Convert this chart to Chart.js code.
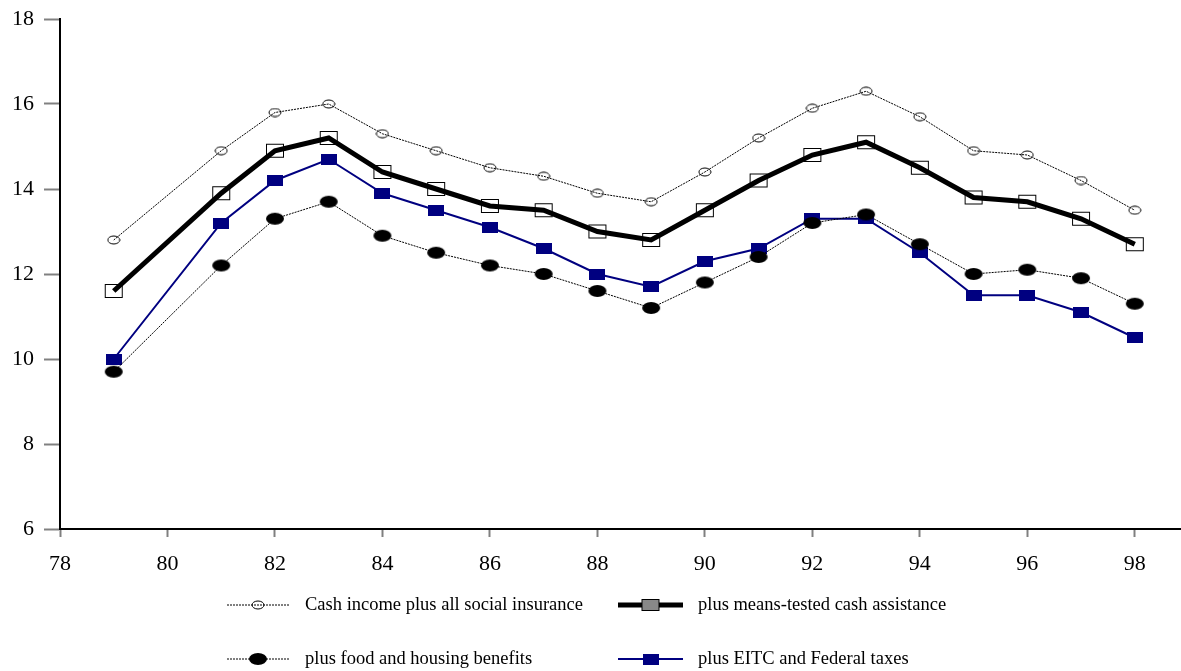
<!DOCTYPE html>
<html>
<head>
<meta charset="utf-8">
<script src="https://cdn.jsdelivr.net/npm/chart.js@4/dist/chart.umd.min.js"></script>
<style>
  html, body { margin: 0; padding: 0; background: #fff; }
  #wrap { width: 1181px; height: 671px; }
</style>
</head>
<body>
<div id="wrap"><canvas id="chart" width="1181" height="671"></canvas></div>
<script>
// years (no 1980 observation)
const years = [79, 81, 82, 83, 84, 85, 86, 87, 88, 89, 90, 91, 92, 93, 94, 95, 96, 97, 98];

const cashSocialIns = [12.8, 14.9, 15.8, 16.0, 15.3, 14.9, 14.5, 14.3, 13.9, 13.7, 14.4, 15.2, 15.9, 16.3, 15.7, 14.9, 14.8, 14.2, 13.5];
const meansTested   = [11.6, 13.9, 14.9, 15.2, 14.4, 14.0, 13.6, 13.5, 13.0, 12.8, 13.5, 14.2, 14.8, 15.1, 14.5, 13.8, 13.7, 13.3, 12.7];
const foodHousing   = [9.7, 12.2, 13.3, 13.7, 12.9, 12.5, 12.2, 12.0, 11.6, 11.2, 11.8, 12.4, 13.2, 13.4, 12.7, 12.0, 12.1, 11.9, 11.3];
const eitcTaxes     = [10.0, 13.2, 14.2, 14.7, 13.9, 13.5, 13.1, 12.6, 12.0, 11.7, 12.3, 12.6, 13.3, 13.3, 12.5, 11.5, 11.5, 11.1, 10.5];

const seriesLabels = [
    'Cash income plus all social insurance',
    'plus means-tested cash assistance',
    'plus food and housing benefits',
    'plus EITC and Federal taxes'
];

const xTicks = [78, 80, 82, 84, 86, 88, 90, 92, 94, 96, 98];
const yTicks = [6, 8, 10, 12, 14, 16, 18];

const FONT = '"Liberation Serif", "DejaVu Serif", serif';

// little canvases used as point markers
function marker(w, h, draw) {
    const c = document.createElement('canvas');
    c.width = w; c.height = h;
    draw(c.getContext('2d'), w, h);
    return c;
}
const openEllipse = marker(14, 10, (g, w, h) => {
    g.strokeStyle = '#000'; g.lineWidth = 1;
    g.beginPath(); g.ellipse(w / 2, h / 2, 6, 4, 0, 0, Math.PI * 2); g.stroke();
});
const openSquare = marker(20, 16, (g, w, h) => {
    g.strokeStyle = '#000'; g.lineWidth = 1;
    g.strokeRect(1.5, 1.5, 17, 13);
});
const filledEllipse = marker(20, 14, (g, w, h) => {
    g.fillStyle = '#000';
    g.beginPath(); g.ellipse(w / 2, h / 2, 9, 6, 0, 0, Math.PI * 2); g.fill();
});
const blueSquare = marker(16, 11, (g, w, h) => {
    g.fillStyle = '#000080';
    g.fillRect(0, 0, 16, 11);
});
// legend version of the open square has a grey fill
const legendSquare = marker(20, 14, (g, w, h) => {
    g.fillStyle = '#888'; g.fillRect(1.5, 1.5, 17, 11);
    g.strokeStyle = '#000'; g.lineWidth = 1;
    g.strokeRect(1.5, 1.5, 17, 11);
});

function toXY(vals) {
    return vals.map((v, i) => ({ x: years[i], y: v }));
}

// legend drawn below the plot: line sample with marker, then label
const legendPlugin = {
    id: 'sampleLegend',
    afterDraw(chart) {
        const ctx = chart.ctx;
        const slots = [
            { x: 227, y: 605, w: 62, tx: 305 },
            { x: 618, y: 605, w: 65, tx: 698 },
            { x: 227, y: 659, w: 62, tx: 305 },
            { x: 618, y: 659, w: 65, tx: 698 }
        ];
        chart.data.datasets.forEach((ds, i) => {
            const s = slots[i];
            ctx.save();
            ctx.strokeStyle = ds.borderColor;
            ctx.lineWidth = ds.borderWidth;
            ctx.setLineDash(ds.borderDash || []);
            ctx.beginPath();
            ctx.moveTo(s.x, s.y);
            ctx.lineTo(s.x + s.w, s.y);
            ctx.stroke();
            const img = i === 1 ? legendSquare : ds.pointStyle;
            ctx.drawImage(img, s.x + s.w / 2 - img.width / 2, s.y - img.height / 2);
            ctx.fillStyle = '#000';
            ctx.font = '18.5px ' + FONT;
            ctx.textBaseline = 'middle';
            ctx.fillText(ds.label, s.tx, s.y);
            ctx.restore();
        });
    }
};

const ctx = document.getElementById('chart').getContext('2d');
const chart = new Chart(ctx, {
    type: 'line',
    data: {
        datasets: [
            {
                label: seriesLabels[0],
                data: toXY(cashSocialIns),
                borderColor: '#000',
                borderWidth: 1,
                borderDash: [2, 1],
                pointStyle: openEllipse
            },
            {
                label: seriesLabels[1],
                data: toXY(meansTested),
                borderColor: '#000',
                borderWidth: 5,
                pointStyle: openSquare
            },
            {
                label: seriesLabels[2],
                data: toXY(foodHousing),
                borderColor: '#000',
                borderWidth: 1,
                borderDash: [2, 1],
                pointStyle: filledEllipse
            },
            {
                label: seriesLabels[3],
                data: toXY(eitcTaxes),
                borderColor: '#000080',
                borderWidth: 2,
                pointStyle: blueSquare
            }
        ]
    },
    options: {
        responsive: false,
        animation: false,
        layout: {
            autoPadding: false,
            padding: { top: 19, right: 0, bottom: 0, left: 0 }
        },
        elements: {
            line: { tension: 0, fill: false },
            point: { radius: 6, hoverRadius: 6 }
        },
        scales: {
            x: {
                type: 'linear',
                min: 78,
                max: 98.86,
                afterBuildTicks: (scale) => { scale.ticks = xTicks.map(v => ({ value: v })); },
                afterFit: (scale) => {
                    scale.height = 142;
                    scale.paddingLeft = 0;
                    scale.paddingRight = 0;
                },
                border: { display: true, color: '#000', width: 2 },
                grid: { drawOnChartArea: false, tickLength: 8, tickColor: '#808080', tickWidth: 2 },
                ticks: {
                    color: '#000',
                    padding: 14,
                    maxRotation: 0,
                    font: { size: 22, family: FONT }
                }
            },
            y: {
                min: 6,
                max: 18,
                afterBuildTicks: (scale) => { scale.ticks = yTicks.map(v => ({ value: v })); },
                afterFit: (scale) => {
                    scale.width = 60;
                    scale.paddingTop = 0;
                    scale.paddingBottom = 0;
                },
                border: { display: true, color: '#000', width: 2 },
                grid: { drawOnChartArea: false, tickLength: 16, tickColor: '#808080', tickWidth: 2 },
                ticks: {
                    color: '#000',
                    padding: 10,
                    font: { size: 22, family: FONT }
                }
            }
        },
        plugins: {
            legend: { display: false },
            tooltip: { enabled: false }
        }
    },
    plugins: [legendPlugin]
});
</script>
</body>
</html>
